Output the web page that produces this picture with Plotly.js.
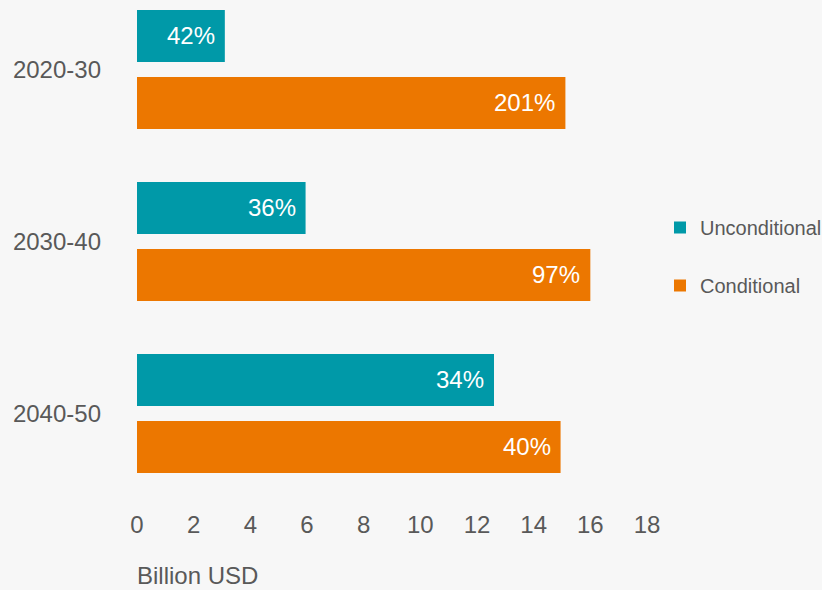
<!DOCTYPE html>
<html>
<head>
<meta charset="utf-8">
<script src="https://cdn.plot.ly/plotly-3.0.1.min.js"></script>
<style>
html,body{margin:0;padding:0;background:#f7f7f7;}
#chart{width:822px;height:590px;}
</style>
</head>
<body>
<div id="chart"></div>
<script>
var categories = ['2020-30', '2030-40', '2040-50'];
var unconditional = [3.1, 5.95, 12.6];
var conditional = [15.12, 16.0, 14.95];
var unconditionalLabels = ['42%', '36%', '34%'];
var conditionalLabels = ['201%', '97%', '40%'];
var xTicks = [0, 2, 4, 6, 8, 10, 12, 14, 16, 18];

var teal = '#0099a8';
var orange = '#ec7700';
var textColor = '#595959';
var fontFam = 'Liberation Sans, Arial, sans-serif';

var traces = [
  {type: 'bar', orientation: 'h', name: 'Unconditional', y: categories, x: unconditional,
   marker: {color: teal}, legendgroup: 'u', hoverinfo: 'none'},
  {type: 'bar', orientation: 'h', name: 'Conditional', y: categories, x: conditional,
   marker: {color: orange}, legendgroup: 'c', hoverinfo: 'none'}
];

var annotations = [];
categories.forEach(function(c, i) {
  annotations.push({x: unconditional[i], y: c, xref: 'x', yref: 'y', text: unconditionalLabels[i],
    showarrow: false, xanchor: 'right', yanchor: 'middle', xshift: -8, yshift: 33.5,
    font: {size: 24, color: '#ffffff', family: fontFam}});
  annotations.push({x: conditional[i], y: c, xref: 'x', yref: 'y', text: conditionalLabels[i],
    showarrow: false, xanchor: 'right', yanchor: 'middle', xshift: -8, yshift: -33.5,
    font: {size: 24, color: '#ffffff', family: fontFam}});
});
annotations.push({x: 0, y: -0.15, xref: 'paper', yref: 'paper', text: 'Billion USD',
  showarrow: false, xanchor: 'left', yanchor: 'middle', xshift: -2,
  font: {size: 24, color: textColor, family: fontFam}});

var layout = {
  width: 822, height: 590,
  margin: {l: 137, r: 175, t: 0, b: 90, autoexpand: false},
  paper_bgcolor: '#f7f7f7', plot_bgcolor: '#f7f7f7',
  font: {family: fontFam, color: textColor, size: 24},
  barmode: 'group', bargap: 0.221, bargroupgap: 0.224,
  xaxis: {range: [0, 18], tickvals: xTicks, ticktext: xTicks.map(String),
    showgrid: false, zeroline: false, showline: false, automargin: false,
    ticks: 'outside', ticklen: 3, tickcolor: 'rgba(0,0,0,0)',
    tickfont: {size: 24, color: textColor}},
  yaxis: {type: 'category', range: [2.503, -0.404], showgrid: false, zeroline: false,
    showline: false, ticks: '', ticklabelstandoff: 35, automargin: false,
    tickfont: {size: 24, color: textColor}},
  showlegend: true,
  legend: {x: 1.0255, y: 0.584, xanchor: 'left', yanchor: 'top', traceorder: 'grouped',
    tracegroupgap: 29, font: {size: 20, color: textColor}, bgcolor: 'rgba(0,0,0,0)'},
  annotations: annotations
};

Plotly.newPlot('chart', traces, layout, {displayModeBar: false, staticPlot: true});
</script>
</body>
</html>
